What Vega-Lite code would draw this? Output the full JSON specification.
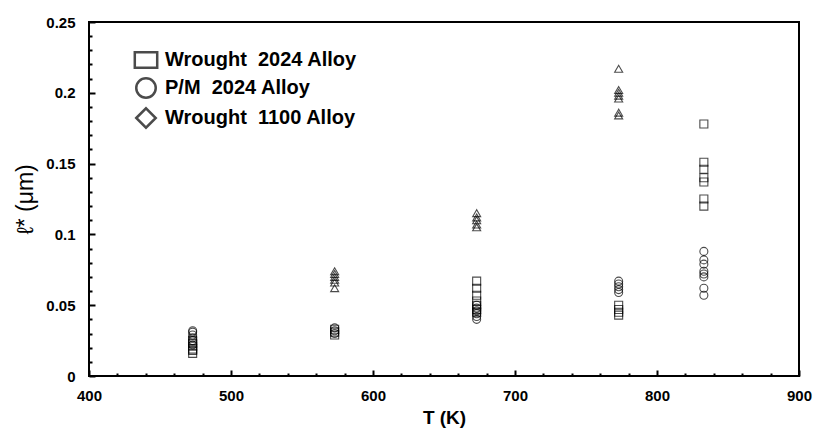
{
  "$schema": "https://vega.github.io/schema/vega-lite/v6.json",
  "autosize": {"type": "none"},
  "width": 710,
  "height": 354,
  "padding": {"left": 89, "top": 22, "right": 15, "bottom": 60},
  "background": "white",
  "config": {
    "view": {"stroke": "black", "strokeWidth": 2},
    "font": "Liberation Sans",
    "axis": {
      "grid": false,
      "domain": false,
      "labelFlush": false,
      "tickColor": "black",
      "labelColor": "black",
      "titleColor": "black",
      "labelFont": "Liberation Sans",
      "labelFontWeight": "bold",
      "labelFontSize": 15,
      "titleFont": "Liberation Sans"
    }
  },
  "data": {
    "values": [
      {"T": 473, "l": 0.016, "alloy": "Wrought  2024 Alloy"},
      {"T": 473, "l": 0.018, "alloy": "Wrought  2024 Alloy"},
      {"T": 473, "l": 0.019, "alloy": "Wrought  2024 Alloy"},
      {"T": 473, "l": 0.021, "alloy": "Wrought  2024 Alloy"},
      {"T": 473, "l": 0.023, "alloy": "Wrought  2024 Alloy"},
      {"T": 473, "l": 0.025, "alloy": "Wrought  2024 Alloy"},
      {"T": 473, "l": 0.022, "alloy": "P/M  2024 Alloy"},
      {"T": 473, "l": 0.025, "alloy": "P/M  2024 Alloy"},
      {"T": 473, "l": 0.027, "alloy": "P/M  2024 Alloy"},
      {"T": 473, "l": 0.029, "alloy": "P/M  2024 Alloy"},
      {"T": 473, "l": 0.031, "alloy": "P/M  2024 Alloy"},
      {"T": 473, "l": 0.032, "alloy": "P/M  2024 Alloy"},
      {"T": 573, "l": 0.062, "alloy": "Wrought  1100 Alloy"},
      {"T": 573, "l": 0.066, "alloy": "Wrought  1100 Alloy"},
      {"T": 573, "l": 0.068, "alloy": "Wrought  1100 Alloy"},
      {"T": 573, "l": 0.070, "alloy": "Wrought  1100 Alloy"},
      {"T": 573, "l": 0.072, "alloy": "Wrought  1100 Alloy"},
      {"T": 573, "l": 0.074, "alloy": "Wrought  1100 Alloy"},
      {"T": 573, "l": 0.030, "alloy": "P/M  2024 Alloy"},
      {"T": 573, "l": 0.032, "alloy": "P/M  2024 Alloy"},
      {"T": 573, "l": 0.034, "alloy": "P/M  2024 Alloy"},
      {"T": 573, "l": 0.029, "alloy": "Wrought  2024 Alloy"},
      {"T": 573, "l": 0.031, "alloy": "Wrought  2024 Alloy"},
      {"T": 573, "l": 0.033, "alloy": "Wrought  2024 Alloy"},
      {"T": 673, "l": 0.105, "alloy": "Wrought  1100 Alloy"},
      {"T": 673, "l": 0.107, "alloy": "Wrought  1100 Alloy"},
      {"T": 673, "l": 0.110, "alloy": "Wrought  1100 Alloy"},
      {"T": 673, "l": 0.112, "alloy": "Wrought  1100 Alloy"},
      {"T": 673, "l": 0.115, "alloy": "Wrought  1100 Alloy"},
      {"T": 673, "l": 0.067, "alloy": "Wrought  2024 Alloy"},
      {"T": 673, "l": 0.062, "alloy": "Wrought  2024 Alloy"},
      {"T": 673, "l": 0.057, "alloy": "Wrought  2024 Alloy"},
      {"T": 673, "l": 0.053, "alloy": "Wrought  2024 Alloy"},
      {"T": 673, "l": 0.050, "alloy": "Wrought  2024 Alloy"},
      {"T": 673, "l": 0.047, "alloy": "Wrought  2024 Alloy"},
      {"T": 673, "l": 0.045, "alloy": "Wrought  2024 Alloy"},
      {"T": 673, "l": 0.050, "alloy": "P/M  2024 Alloy"},
      {"T": 673, "l": 0.048, "alloy": "P/M  2024 Alloy"},
      {"T": 673, "l": 0.046, "alloy": "P/M  2024 Alloy"},
      {"T": 673, "l": 0.044, "alloy": "P/M  2024 Alloy"},
      {"T": 673, "l": 0.042, "alloy": "P/M  2024 Alloy"},
      {"T": 673, "l": 0.040, "alloy": "P/M  2024 Alloy"},
      {"T": 773, "l": 0.217, "alloy": "Wrought  1100 Alloy"},
      {"T": 773, "l": 0.202, "alloy": "Wrought  1100 Alloy"},
      {"T": 773, "l": 0.200, "alloy": "Wrought  1100 Alloy"},
      {"T": 773, "l": 0.198, "alloy": "Wrought  1100 Alloy"},
      {"T": 773, "l": 0.196, "alloy": "Wrought  1100 Alloy"},
      {"T": 773, "l": 0.186, "alloy": "Wrought  1100 Alloy"},
      {"T": 773, "l": 0.184, "alloy": "Wrought  1100 Alloy"},
      {"T": 773, "l": 0.067, "alloy": "P/M  2024 Alloy"},
      {"T": 773, "l": 0.065, "alloy": "P/M  2024 Alloy"},
      {"T": 773, "l": 0.063, "alloy": "P/M  2024 Alloy"},
      {"T": 773, "l": 0.061, "alloy": "P/M  2024 Alloy"},
      {"T": 773, "l": 0.059, "alloy": "P/M  2024 Alloy"},
      {"T": 773, "l": 0.050, "alloy": "Wrought  2024 Alloy"},
      {"T": 773, "l": 0.047, "alloy": "Wrought  2024 Alloy"},
      {"T": 773, "l": 0.045, "alloy": "Wrought  2024 Alloy"},
      {"T": 773, "l": 0.043, "alloy": "Wrought  2024 Alloy"},
      {"T": 833, "l": 0.178, "alloy": "Wrought  2024 Alloy"},
      {"T": 833, "l": 0.151, "alloy": "Wrought  2024 Alloy"},
      {"T": 833, "l": 0.146, "alloy": "Wrought  2024 Alloy"},
      {"T": 833, "l": 0.140, "alloy": "Wrought  2024 Alloy"},
      {"T": 833, "l": 0.137, "alloy": "Wrought  2024 Alloy"},
      {"T": 833, "l": 0.125, "alloy": "Wrought  2024 Alloy"},
      {"T": 833, "l": 0.120, "alloy": "Wrought  2024 Alloy"},
      {"T": 833, "l": 0.088, "alloy": "P/M  2024 Alloy"},
      {"T": 833, "l": 0.082, "alloy": "P/M  2024 Alloy"},
      {"T": 833, "l": 0.079, "alloy": "P/M  2024 Alloy"},
      {"T": 833, "l": 0.074, "alloy": "P/M  2024 Alloy"},
      {"T": 833, "l": 0.072, "alloy": "P/M  2024 Alloy"},
      {"T": 833, "l": 0.070, "alloy": "P/M  2024 Alloy"},
      {"T": 833, "l": 0.062, "alloy": "P/M  2024 Alloy"},
      {"T": 833, "l": 0.057, "alloy": "P/M  2024 Alloy"}
    ]
  },
  "resolve": {"axis": {"x": "independent", "y": "independent"}},
  "layer": [
    {
      "transform": [{"filter": "datum.alloy == 'P/M  2024 Alloy'"}],
      "mark": {"type": "point", "filled": false, "stroke": "black", "strokeWidth": 1.1, "size": 64},
      "encoding": {
        "x": {
          "field": "T", "type": "quantitative",
          "scale": {"domain": [400, 900], "nice": false, "zero": false},
          "axis": {
            "orient": "bottom",
            "values": [400, 500, 600, 700, 800, 900],
            "tickSize": -6, "tickWidth": 2, "labelPadding": 18,
            "title": "T (K)", "titleFontSize": 19, "titleFontWeight": "bold", "titlePadding": 5
          }
        },
        "y": {
          "field": "l", "type": "quantitative",
          "scale": {"domain": [0, 0.25], "nice": false},
          "axis": {
            "orient": "left",
            "values": [0, 0.05, 0.1, 0.15, 0.2, 0.25],
            "format": "~g",
            "tickSize": -6, "tickWidth": 2, "labelPadding": 20,
            "title": "ℓ* (μm)", "titleFontSize": 23, "titleFontWeight": "normal", "titlePadding": 8
          }
        },
        "shape": {
          "field": "alloy", "type": "nominal",
          "scale": {
            "domain": ["Wrought  2024 Alloy", "P/M  2024 Alloy", "Wrought  1100 Alloy"],
            "range": ["M-1.15,-0.8H1.15V0.8H-1.15Z", "circle", "diamond"]
          },
          "legend": {
            "title": null,
            "orient": "none",
            "legendX": 46,
            "legendY": 27,
            "symbolSize": 380,
            "symbolStrokeWidth": 2.5,
            "symbolStrokeColor": "black",
            "symbolFillColor": "transparent",
            "labelFont": "Liberation Sans",
            "labelFontSize": 20,
            "labelFontWeight": "bold",
            "labelColor": "black",
            "labelOffset": 8,
            "labelLimit": 400,
            "rowPadding": 0,
            "labelExpr": "replace(datum.label, '  ', '\u00a0 ')"
          }
        }
      }
    },
    {
      "transform": [{"filter": "datum.alloy == 'Wrought  2024 Alloy'"}],
      "mark": {"type": "point", "shape": "square", "filled": false, "stroke": "black", "strokeWidth": 1.1, "size": 64},
      "encoding": {
        "x": {"field": "T", "type": "quantitative", "axis": null},
        "y": {"field": "l", "type": "quantitative", "axis": null}
      }
    },
    {
      "transform": [{"filter": "datum.alloy == 'Wrought  1100 Alloy'"}],
      "mark": {"type": "point", "shape": "triangle-up", "filled": false, "stroke": "black", "strokeWidth": 1.1, "size": 64},
      "encoding": {
        "x": {"field": "T", "type": "quantitative", "axis": null},
        "y": {"field": "l", "type": "quantitative", "axis": null}
      }
    },
    {
      "mark": {"type": "point", "opacity": 0},
      "encoding": {
        "x": {
          "field": "T", "type": "quantitative",
          "axis": {
            "orient": "bottom",
            "values": [420, 440, 460, 480, 520, 540, 560, 580, 620, 640, 660, 680, 720, 740, 760, 780, 820, 840, 860, 880],
            "labels": false, "tickSize": -3, "tickWidth": 2, "title": null
          }
        },
        "y": {
          "field": "l", "type": "quantitative",
          "axis": {
            "orient": "left",
            "values": [0.01, 0.02, 0.03, 0.04, 0.06, 0.07, 0.08, 0.09, 0.11, 0.12, 0.13, 0.14, 0.16, 0.17, 0.18, 0.19, 0.21, 0.22, 0.23, 0.24],
            "labels": false, "tickSize": -3, "tickWidth": 2, "title": null
          }
        }
      }
    }
  ]
}
